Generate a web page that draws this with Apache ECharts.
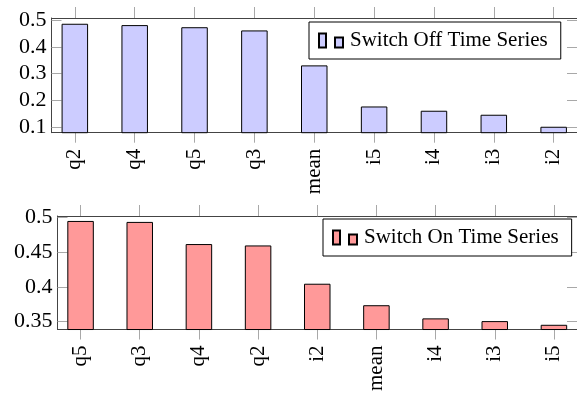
<!DOCTYPE html>
<html>
<head>
<meta charset="utf-8">
<script src="https://cdn.jsdelivr.net/npm/echarts@6/dist/echarts.min.js"></script>
<style>
  html, body { margin: 0; padding: 0; background: #fff; }
  #chart { width: 577px; height: 394px; }
</style>
</head>
<body>
<div id="chart"></div>
<script>
// switch off (top panel)
const offCats = ['q2', 'q4', 'q5', 'q3', 'mean', 'i5', 'i4', 'i3', 'i2'];
const offVals = [0.487, 0.482, 0.474, 0.462, 0.331, 0.177, 0.161, 0.146, 0.101];
const offTicks = [0.1, 0.2, 0.3, 0.4, 0.5];

// switch on (bottom panel)
const onCats = ['q5', 'q3', 'q4', 'q2', 'i2', 'mean', 'i4', 'i3', 'i5'];
const onVals = [0.4946, 0.4932, 0.4614, 0.4594, 0.4044, 0.3735, 0.3546, 0.3507, 0.3454];
const onTicks = [0.35, 0.4, 0.45, 0.5];

const serif = '"Liberation Serif", serif';
const spine = '#444';
const tickGray = '#a8a8a8';
const idx = offCats.map((c, i) => i);

function catAxis(gridIndex, cats, position) {
  const bottom = position === 'bottom';
  return {
    type: 'value',
    gridIndex: gridIndex,
    position: position,
    min: -0.39,
    max: 8.39,
    axisLine: { show: true, onZero: false, lineStyle: { color: spine, width: 1 } },
    axisTick: { show: true, inside: false, length: bottom ? 10 : 11, customValues: idx, lineStyle: { color: tickGray } },
    axisLabel: {
      show: bottom,
      customValues: idx,
      rotate: 90,
      margin: 16,
      fontFamily: serif,
      fontSize: 21,
      color: '#000',
      formatter: (v) => cats[Math.round(v)],
    },
    splitLine: { show: false },
  };
}

function valAxis(gridIndex, ticks, min, max, position) {
  const left = position === 'left';
  return {
    type: 'value',
    gridIndex: gridIndex,
    position: position,
    min: min,
    max: max,
    axisLine: { show: true, onZero: false, lineStyle: { color: spine, width: 1 } },
    axisTick: { show: true, inside: true, length: 10, customValues: ticks, lineStyle: { color: tickGray } },
    axisLabel: {
      show: left,
      customValues: ticks,
      margin: 5,
      fontFamily: serif,
      fontSize: 22,
      color: '#000',
    },
    splitLine: { show: false },
  };
}

const legendIcon = 'path://M0,0H7V14H0Z M16,4H24V14H16Z';

function legend(name, left, top) {
  return {
    data: [name],
    left: left,
    top: top,
    orient: 'horizontal',
    icon: legendIcon,
    itemWidth: 24,
    itemHeight: 14,
    padding: [8, 13, 8, 9],
    borderColor: '#000',
    borderWidth: 1,
    backgroundColor: '#fff',
    selectedMode: false,
    textStyle: { fontFamily: serif, fontSize: 21, color: '#000', padding: [0, 0, 0, 2] },
  };
}

const chart = echarts.init(document.getElementById('chart'), null, { renderer: 'canvas' });
chart.setOption({
  animation: false,
  backgroundColor: '#fff',
  grid: [
    { left: 51.5, top: 18, width: 525.5, height: 114.7 },
    { left: 57.5, top: 216, width: 525.5, height: 114.7 },
  ],
  xAxis: [
    catAxis(0, offCats, 'bottom'),
    catAxis(0, offCats, 'top'),
    catAxis(1, onCats, 'bottom'),
    catAxis(1, onCats, 'top'),
  ],
  yAxis: [
    valAxis(0, offTicks, 0.0787, 0.5086, 'left'),
    valAxis(0, offTicks, 0.0787, 0.5086, 'right'),
    valAxis(1, onTicks, 0.3386, 0.5017, 'left'),
    valAxis(1, onTicks, 0.3386, 0.5017, 'right'),
  ],
  legend: [
    legend('Switch Off Time Series', 309, 22),
    legend('Switch On Time Series', 323, 219),
  ],
  series: [
    {
      name: 'Switch Off Time Series',
      type: 'bar',
      xAxisIndex: 0,
      yAxisIndex: 0,
      barWidth: 26.5,
      itemStyle: { color: '#ccccff', borderColor: '#000', borderWidth: 1 },
      data: offVals.map((v, i) => [i, v]),
    },
    {
      name: 'Switch On Time Series',
      type: 'bar',
      xAxisIndex: 2,
      yAxisIndex: 2,
      barWidth: 26.5,
      itemStyle: { color: '#ff9999', borderColor: '#000', borderWidth: 1 },
      data: onVals.map((v, i) => [i, v]),
    },
  ],
});
</script>
</body>
</html>
